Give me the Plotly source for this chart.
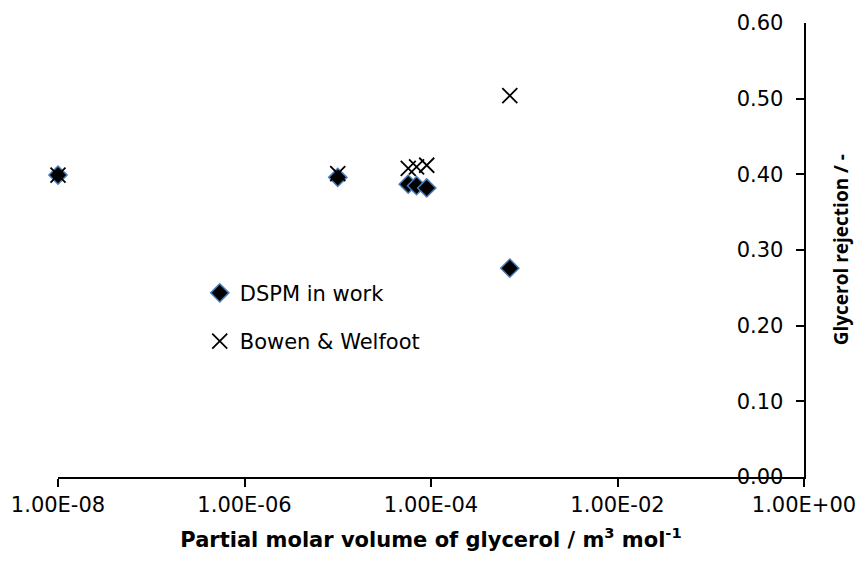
import plotly.graph_objects as go

# Partial molar volume of glycerol (m3/mol) and predicted rejection
volume = [1e-8, 1e-5, 5.7e-5, 7.0e-5, 9.0e-5, 7.0e-4]
rejection_dspm = [0.399, 0.396, 0.387, 0.385, 0.382, 0.276]
rejection_bowen = [0.399, 0.401, 0.408, 0.410, 0.412, 0.504]

x_tickvals = [1e-8, 1e-6, 1e-4, 1e-2, 1e0]
x_ticktext = ["1.00E-08", "1.00E-06", "1.00E-04", "1.00E-02", "1.00E+00"]

FONT = "DejaVu Sans"
TITLE_FONT = "Open Sans"

fig = go.Figure()
fig.add_trace(go.Scatter(
    x=volume, y=rejection_dspm, mode="markers", name="DSPM in work",
    legendgroup="dspm", cliponaxis=False,
    marker=dict(symbol="diamond", size=14, color="black",
                line=dict(color="#4A7EBB", width=1.5)),
))
fig.add_trace(go.Scatter(
    x=volume, y=rejection_bowen, mode="markers", name="Bowen & Welfoot",
    legendgroup="bowen", cliponaxis=False,
    marker=dict(symbol="x-thin", size=15, color="black",
                line=dict(color="black", width=1.8)),
))

fig.update_layout(
    width=862, height=564,
    margin=dict(l=58, r=58, t=23, b=87),
    paper_bgcolor="white", plot_bgcolor="white",
    font=dict(family=FONT, size=21, color="black"),
    showlegend=True,
    legend=dict(x=0.19, y=0.45, xanchor="left", yanchor="top",
                bgcolor="rgba(0,0,0,0)", tracegroupgap=18,
                font=dict(family=FONT, size=21, color="black")),
    xaxis=dict(
        type="log", range=[-8, 0], automargin=False,
        tickmode="array", tickvals=x_tickvals, ticktext=x_ticktext,
        ticks="outside", ticklen=8, tickwidth=1.5, tickcolor="black",
        ticklabeloverflow="allow",
        showline=True, linecolor="black", linewidth=1.5,
        showgrid=False, zeroline=False,
        tickfont=dict(family=FONT, size=21, color="black"),
        title=dict(
            text="<b>Partial molar volume of glycerol / m<sup>3</sup> mol<sup>-1</sup></b>",
            font=dict(family=FONT, size=21, color="black"), standoff=16),
    ),
    yaxis=dict(
        range=[0, 0.6], dtick=0.1, tick0=0, tickformat=".2f", automargin=False,
        side="right", ticks="inside", ticklabelposition="inside",
        ticklabelstandoff=14, ticklabeloverflow="allow",
        ticklen=8, tickwidth=1.5, tickcolor="black",
        showline=True, linecolor="black", linewidth=1.5,
        showgrid=False, zeroline=False,
        tickfont=dict(family=FONT, size=21, color="black"),
    ),
)

# Value-axis title sits just outside the right-hand axis line
fig.add_annotation(
    text="<b>Glycerol rejection / -</b>", textangle=-90,
    xref="paper", yref="paper", x=1.05, y=0.5,
    xanchor="center", yanchor="middle", showarrow=False,
    font=dict(family=TITLE_FONT, size=19, color="black"),
)

fig.write_html("out.html")
